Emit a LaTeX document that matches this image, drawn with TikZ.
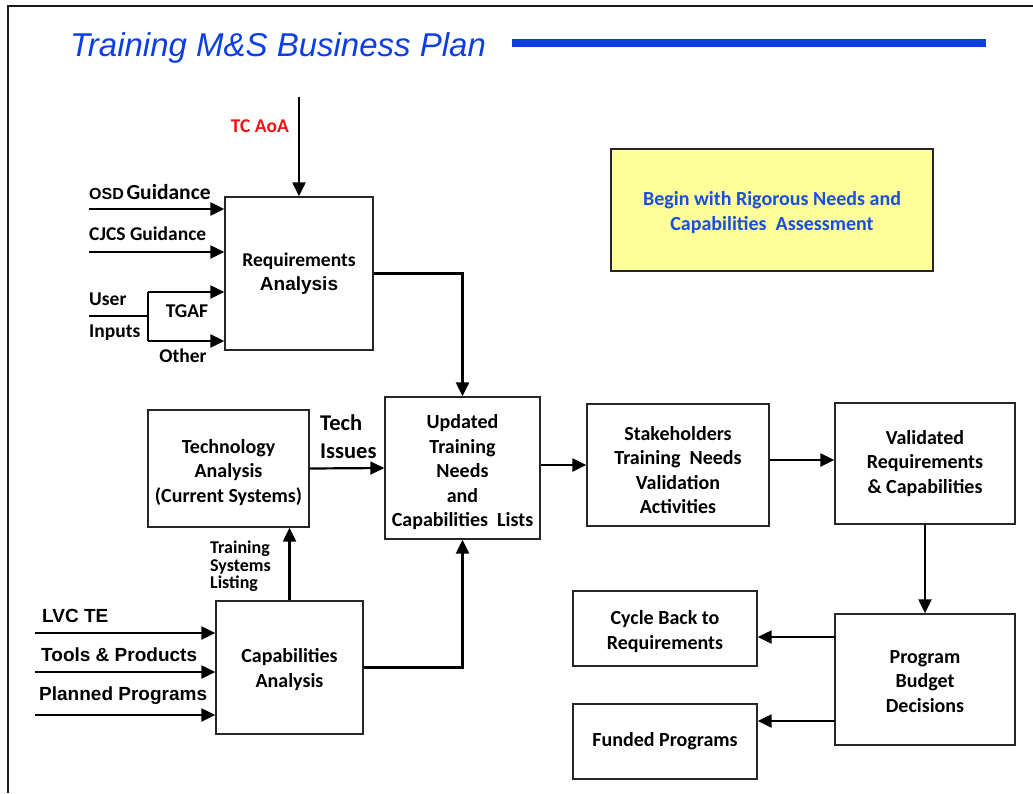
\documentclass[tikz,border=0pt]{standalone}
\usepackage{fontspec}
\setmainfont{Carlito}
\newfontfamily\arialf{Liberation Sans}
\usetikzlibrary{arrows.meta,calc}
\definecolor{titleblue}{RGB}{12,62,228}
\definecolor{noteblue}{RGB}{26,78,224}
\definecolor{noteyellow}{RGB}{255,255,153}
\definecolor{aoared}{RGB}{235,20,20}
\begin{document}
\begin{tikzpicture}[x=1pt,y=-1pt,
  box/.style={draw=black!85,line width=1.3pt,rectangle,inner sep=0pt},
  boxtext/.style={inner sep=0pt,align=center,font=\bfseries\fontsize{20}{24.5}\selectfont},
  lbl/.style={inner sep=0pt,font=\bfseries\fontsize{19.5}{22}\selectfont},
  albl/.style={inner sep=0pt,font=\arialf\bfseries\fontsize{19}{22}\selectfont},
  flow/.style={line width=2.2pt,-{Triangle[length=14pt,width=13pt]}},
  feed/.style={line width=2.2pt}]
\useasboundingbox (0,0) rectangle (1033,793);

% page frame
\draw[line width=2.6pt,black!90] (1033,6) -- (8,6) -- (8,793);

% title with rule
\node[anchor=base west,inner sep=0pt,text=titleblue,
  font=\arialf\itshape\fontsize{33}{36}\selectfont] (title) at (70,56) {Training M\&S Business Plan};
\coordinate (ruleL) at (512,43);
\coordinate (ruleR) at (986,43);
\draw[titleblue,line width=8pt] (ruleL) -- (ruleR);

% note
\node[draw=black!85,line width=1.2pt,fill=noteyellow,minimum width=322pt,minimum height=122pt,
  inner sep=0pt] (note) at (772,210) {};
\node[boxtext,text=noteblue,font=\bfseries\fontsize{20}{25}\selectfont]
  (noteT) at ($(note.center)+(0,3)$) {Begin with Rigorous Needs and\\Capabilities\ \ Assessment};

% process boxes
\node[box,minimum width=148pt,minimum height=153pt] (req) at (299,273.5) {};
\node[box,minimum width=155pt,minimum height=142pt] (upd) at (462.5,468) {};
\node[box,minimum width=161pt,minimum height=117pt] (tech) at (228.5,468.5) {};
\node[box,minimum width=147pt,minimum height=133pt] (cap) at (289.5,667.5) {};
\node[box,minimum width=182pt,minimum height=122pt] (stake) at (678,465) {};
\node[box,minimum width=180pt,minimum height=121pt] (valid) at (925,463.5) {};
\node[box,minimum width=180pt,minimum height=131pt] (prog) at (925,679.5) {};
\node[box,minimum width=184pt,minimum height=75pt] (cycle) at (665,628.5) {};
\node[box,minimum width=184pt,minimum height=75pt] (funded) at (665,741.5) {};

% box captions
\node[boxtext] (reqT) at (req.center)
  {\fontsize{19.5}{23}\selectfont Requirements\\{\arialf\bfseries\fontsize{19}{23}\selectfont Analysis}};
\node[boxtext] (updT) at ($(upd.center)+(0,4.5)$)
  {Updated\\Training\\Needs\\and\\Capabilities\ \ Lists};
\node[boxtext] (techT) at ($(tech.center)+(0,4)$)
  {Technology\\Analysis\\(Current Systems)};
\node[boxtext] (capT) at ($(cap.center)+(0,2)$)
  {Capabilities\\Analysis};
\node[boxtext] (stakeT) at ($(stake.center)+(0,5)$)
  {Stakeholders\\Training\ \ Needs\\Validation\\Activities};
\node[boxtext] (validT) at (valid.center)
  {Validated\\Requirements\\\&\ Capabilities};
\node[boxtext] (progT) at ($(prog.center)+(0,2)$)
  {Program\\Budget\\Decisions};
\node[boxtext] (cycleT) at ($(cycle.center)+(0,3)$)
  {Cycle Back to\\Requirements};
\node[boxtext] (fundedT) at (funded.center)
  {Funded Programs};

% inputs to requirements analysis
\coordinate (aoaSrc) at (299,97);
\coordinate (osdSrc) at (89,209);
\coordinate (cjcsSrc) at (89,252);
\coordinate (userSrc) at (89,316);
\coordinate (userFork) at (148,316);
\coordinate (tgafJoint) at (148,292);
\coordinate (otherJoint) at (148,341);
\draw[flow] (aoaSrc) -- (aoaSrc |- req.north);
\draw[flow] (osdSrc) -- (osdSrc -| req.west);
\draw[flow] (cjcsSrc) -- (cjcsSrc -| req.west);
\draw[feed] (userSrc) -- (userFork);
\draw[feed] (tgafJoint) -- (otherJoint);
\draw[flow] (tgafJoint) -- (tgafJoint -| req.west);
\draw[flow] (otherJoint) -- (otherJoint -| req.west);

\node[lbl,anchor=base,text=aoared] (aoa) at (260,132) {TC AoA};
\node[anchor=base west,inner sep=0pt] (osd) at (89,199)
  {\arialf\bfseries\fontsize{16}{18}\selectfont OSD\,\bfseries\rmfamily\fontsize{21.5}{22}\selectfont Guidance};
\node[lbl,anchor=base west] (cjcs) at (89,240) {CJCS Guidance};
\node[lbl,anchor=base west] (user) at (89,305) {User};
\node[lbl,anchor=base west] (inputs) at (89,337) {Inputs};
\node[lbl,anchor=base] (tgaf) at (187,317) {TGAF};
\node[lbl,anchor=base] (other) at (183,362) {Other};

% inputs to capabilities analysis
\coordinate (lvcSrc) at (35,633);
\coordinate (toolsSrc) at (35,672);
\coordinate (plannedSrc) at (35,715);
\draw[flow] (lvcSrc) -- (lvcSrc -| cap.west);
\draw[flow] (toolsSrc) -- (toolsSrc -| cap.west);
\draw[flow] (plannedSrc) -- (plannedSrc -| cap.west);
\node[albl,anchor=base west] (lvc) at (42,622) {LVC TE};
\node[albl,anchor=base west] (tools) at (41,661) {Tools \& Products};
\node[albl,anchor=base west] (planned) at (39,700) {Planned Programs};

% flow between boxes
\draw[flow] (req.east) -| (upd.north);
\draw[flow] (tech.east) -- (upd.west);
\node[anchor=base west,inner sep=0pt,font=\bfseries\fontsize{22.5}{24}\selectfont] (techL1) at (320,430) {Tech};
\node[anchor=base west,inner sep=0pt,font=\bfseries\fontsize{22.5}{24}\selectfont] (techL2) at (320,458) {Issues};
\draw[flow] (cap.north) -- (cap.north |- tech.south);
\node[anchor=north west,inner sep=0pt,align=left,font=\bfseries\fontsize{18}{17.5}\selectfont] (tsl) at (210,541)
  {Training\\Systems\\Listing};
\draw[flow] (cap.east) -| (upd.south);
\draw[flow] (upd.east |- stake.west) -- (stake.west);
\coordinate (svOut) at ($(stake.east)+(0,-5)$);
\draw[flow] (svOut) -- (svOut -| valid.west);
\draw[flow] (valid.south) -- (prog.north);
\coordinate (pcOut) at (835,637);
\coordinate (pfOut) at (835,721);
\draw[flow] (pcOut) -- (pcOut -| cycle.east);
\draw[flow] (pfOut) -- (pfOut -| funded.east);
\end{tikzpicture}
\end{document}
